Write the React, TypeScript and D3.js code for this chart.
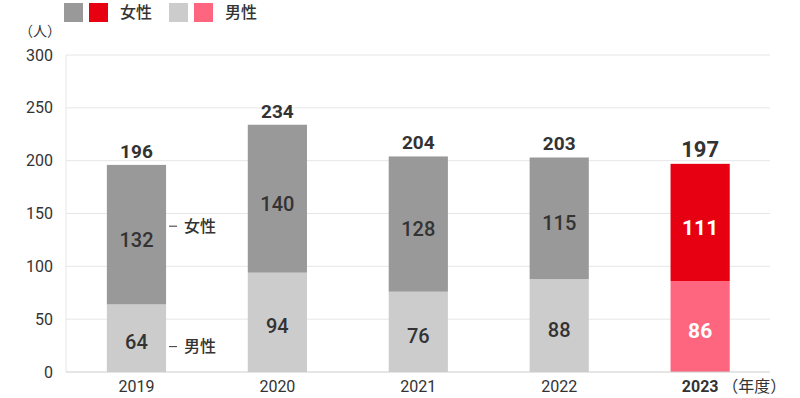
import * as d3 from "d3";

const years = ["2019", "2020", "2021", "2022", "2023"];
const female = [132, 140, 128, 115, 111];
const male = [64, 94, 76, 88, 86];
const totals = [196, 234, 204, 203, 197];
const yTicks = [0, 50, 100, 150, 200, 250, 300];

const W = 800;
const H = 398;
const marginLeft = 66;
const marginRight = 30;
const marginTop = 55;
const marginBottom = 26;

const font = "Roboto, 'Noto Sans CJK JP', sans-serif";
const textColor = "#333";

const App = () => {
  const x = d3
    .scaleBand()
    .domain(years)
    .range([marginLeft, W - marginRight + 0.6])
    .paddingInner(0.58)
    .paddingOuter(0.29);

  const y = d3
    .scaleLinear()
    .domain([0, 300])
    .range([H - marginBottom, marginTop]);

  const last = years.length - 1;
  const bw = x.bandwidth();

  return (
    <svg
      width={W}
      height={H}
      style={{ position: "absolute", left: 0, top: 0, fontFamily: font }}
    >
      {/* 凡例 */}
      <g fontSize={16} fontWeight={500} fill={textColor}>
        <rect x={64} y={3} width={19} height={19} fill="#999999" />
        <rect x={89} y={3} width={19} height={19} fill="#e60012" />
        <text x={120} y={18}>
          女性
        </text>
        <rect x={169} y={3} width={19} height={19} fill="#cccccc" />
        <rect x={194} y={3} width={19} height={19} fill="#fe6680" />
        <text x={225} y={18}>
          男性
        </text>
      </g>

      <text x={61} y={36} fontSize={14} fill={textColor} textAnchor="end">
        （人）
      </text>

      {/* grid */}
      {yTicks.map((t) => (
        <g key={t}>
          {t > 0 && (
            <line
              x1={marginLeft}
              x2={W - marginRight}
              y1={y(t)}
              y2={y(t)}
              stroke="#e6e6e6"
            />
          )}
          <text
            x={53}
            y={y(t)}
            dy="0.35em"
            fontSize={16}
            fill={textColor}
            textAnchor="end"
          >
            {t}
          </text>
        </g>
      ))}
      <line
        x1={marginLeft}
        x2={marginLeft}
        y1={y(300)}
        y2={y(0)}
        stroke="#e6e6e6"
      />

      {/* bars */}
      {years.map((yr, i) => {
        const cx = (x(yr) as number) + bw / 2;
        const hi = i === last;
        const mTop = y(male[i]);
        const fTop = y(male[i] + female[i]);
        return (
          <g key={yr}>
            <rect
              x={x(yr)}
              y={mTop}
              width={bw}
              height={y(0) - mTop}
              fill={hi ? "#fe6680" : "#cccccc"}
            />
            <rect
              x={x(yr)}
              y={fTop}
              width={bw}
              height={mTop - fTop}
              fill={hi ? "#e60012" : "#999999"}
            />
            <text
              x={cx}
              y={(y(0) + mTop) / 2 + 4}
              dy="0.35em"
              textAnchor="middle"
              fontSize={hi ? 21 : 20}
              fontWeight={hi ? 700 : 500}
              fill={hi ? "#fff" : textColor}
            >
              {male[i]}
            </text>
            <text
              x={cx}
              y={(mTop + fTop) / 2 + 5}
              dy="0.35em"
              textAnchor="middle"
              fontSize={hi ? 21 : 20}
              fontWeight={hi ? 700 : 500}
              fill={hi ? "#fff" : textColor}
            >
              {female[i]}
            </text>
            <text
              x={cx}
              y={y(totals[i]) - 7}
              textAnchor="middle"
              fontSize={hi ? 22 : 19}
              fontWeight={700}
              fill={textColor}
            >
              {totals[i]}
            </text>
            <text
              x={cx}
              y={y(0) + 20}
              textAnchor="middle"
              fontSize={16}
              fontWeight={hi ? 700 : 400}
              fill={textColor}
            >
              {yr}
            </text>
          </g>
        );
      })}

      <text
        x={(x(years[last]) as number) + bw / 2 + 22}
        y={y(0) + 20}
        fontSize={16}
        fill={textColor}
      >
        （年度）
      </text>

      {/* annotation */}
      {[
        { label: "女性", v: 138 },
        { label: "男性", v: 24 },
      ].map((a) => {
        const x0 = (x(years[0]) as number) + bw + 3;
        return (
          <g key={a.label}>
            <line
              x1={x0}
              x2={x0 + 8}
              y1={y(a.v)}
              y2={y(a.v)}
              stroke={textColor}
            />
            <text
              x={x0 + 15}
              y={y(a.v)}
              dy="0.35em"
              fontSize={16}
              fontWeight={500}
              fill={textColor}
            >
              {a.label}
            </text>
          </g>
        );
      })}

      <line
        x1={marginLeft}
        x2={W - marginRight}
        y1={y(0)}
        y2={y(0)}
        stroke="#cccccc"
      />
    </svg>
  );
};

export default App;
